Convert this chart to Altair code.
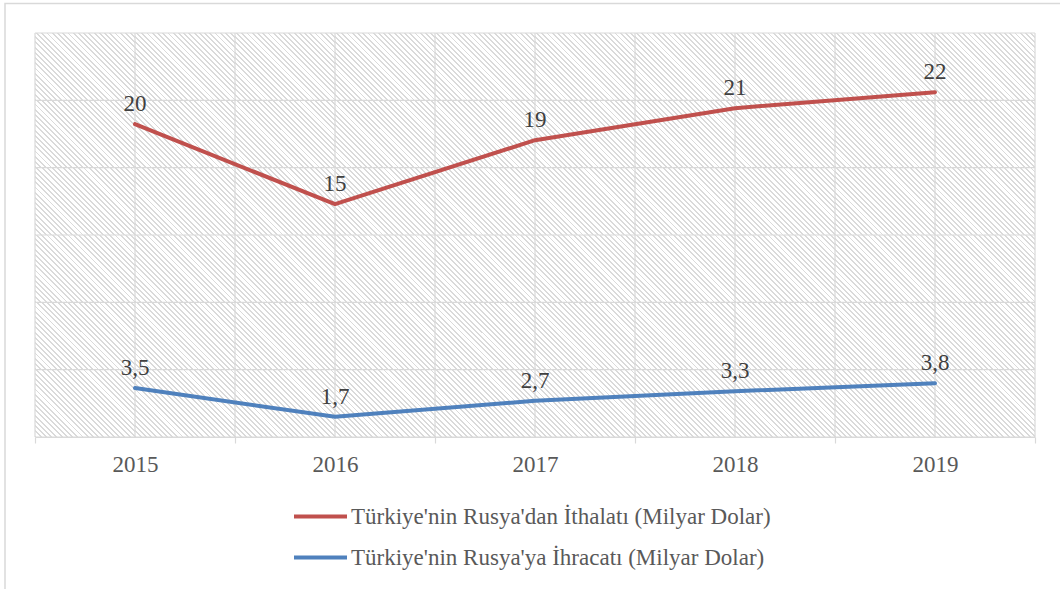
import altair as alt
import pandas as pd

# ---- data ----
years = [2015, 2016, 2017, 2018, 2019]
imports = [20, 15, 19, 21, 22]          # Türkiye'nin Rusya'dan İthalatı (Milyar Dolar)
exports = [3.5, 1.7, 2.7, 3.3, 3.8]     # Türkiye'nin Rusya'ya İhracatı (Milyar Dolar)
series_names = [
    "Türkiye'nin Rusya'dan İthalatı (Milyar Dolar)",
    "Türkiye'nin Rusya'ya İhracatı (Milyar Dolar)",
]
series_colors = ["#c0504d", "#4f81bd"]

rows = []
for name, vals in zip(series_names, [imports, exports]):
    for y, v in zip(years, vals):
        rows.append({"year": y, "value": v, "series": name,
                     "label": f"{v:g}".replace(".", ",")})
df = pd.DataFrame(rows)

# ---- layout ----
W, H = 1000, 404
y_min, y_max = 0.44, 25.7
grid_y = [y_min + i * (y_max - y_min) / 6 for i in range(7)]
grid_x = [years[0] - 0.5 + i * 0.5 for i in range(2 * len(years) + 1)]
x_scale = alt.Scale(domain=[years[0] - 0.5, years[-1] + 0.5], nice=False, zero=False)
y_scale = alt.Scale(domain=[y_min, y_max], nice=False, zero=False)

# background cells between grid lines, each filled with a diagonal hatch
cells = pd.DataFrame([
    {"x0": grid_x[i], "x1": grid_x[i + 1], "y0": grid_y[j], "y1": grid_y[j + 1]}
    for i in range(len(grid_x) - 1) for j in range(len(grid_y) - 1)
])
cw, ch = W / (len(grid_x) - 1), H / (len(grid_y) - 1)
r = ch / cw
s = (1 + r) / (1 + r * r)
N = round((cw + ch) / 5.3)
stops = []
for k in range(N):
    a = k / N
    b = (k + 0.36) / N
    c = (k + 1) / N
    stops += [
        alt.GradientStop(offset=round(a, 6), color="#dadada"),
        alt.GradientStop(offset=round(b, 6), color="#dadada"),
        alt.GradientStop(offset=round(b, 6), color="#ffffff"),
        alt.GradientStop(offset=round(c, 6), color="#ffffff"),
    ]
hatch = alt.LinearGradient(gradient="linear", stops=stops,
                           x1=0, y1=1, x2=round(s, 5), y2=round(1 - s * r, 5))

serif = "Liberation Serif, Times New Roman, DejaVu Serif, serif"
grid_color = "#d9d9d9"

x_enc = alt.X(
    "year:Q",
    scale=x_scale,
    axis=alt.Axis(
        values=grid_x, title=None, grid=False,
        domainColor=grid_color, domainWidth=1.2, tickSize=6, tickWidth=1.2,
        tickColor={"condition": {"test": "datum.value % 1 === 0", "value": "transparent"},
                   "value": grid_color},
        labelExpr="datum.value % 1 === 0 ? format(datum.value, 'd') : ''",
        labelFont=serif, labelFontSize=23, labelColor="#595959", labelPadding=10,
        labelFlush=False, labelOverlap=False,
    ),
)
y_enc = alt.Y(
    "value:Q",
    scale=y_scale,
    axis=alt.Axis(title=None, grid=False, labels=False, ticks=False, domain=False),
)
color_enc = alt.Color(
    "series:N",
    scale=alt.Scale(domain=series_names, range=series_colors),
    legend=alt.Legend(
        title=None, orient="none", legendX=257, legendY=455, direction="vertical",
        symbolType="stroke", symbolSize=2809, symbolStrokeWidth=4,
        labelFont=serif, labelFontSize=23, labelColor="#595959", labelLimit=700,
        labelOffset=2, rowPadding=-13, padding=0,
    ),
)

border = alt.Chart(pd.DataFrame({"k": [0]})).mark_rect(
    fill="transparent", stroke="#d9d9d9", strokeWidth=1.5, clip=False
).encode(x=alt.value(-30), x2=alt.value(1040), y=alt.value(-29.5), y2=alt.value(570))

background = alt.Chart(cells).mark_rect(fill=hatch).encode(
    x=alt.X("x0:Q", scale=x_scale), x2="x1:Q",
    y=alt.Y("y0:Q", scale=y_scale), y2="y1:Q",
)

vgrid = alt.Chart(pd.DataFrame({"gx": grid_x})).mark_rule(
    color=grid_color, strokeWidth=1.2
).encode(x=alt.X("gx:Q", scale=x_scale), y=alt.value(0), y2=alt.value(H))

hgrid = alt.Chart(pd.DataFrame({"gy": grid_y})).mark_rule(
    color=grid_color, strokeWidth=1.2
).encode(y=alt.Y("gy:Q", scale=y_scale), x=alt.value(0), x2=alt.value(W))

lines = alt.Chart(df).mark_line(strokeWidth=4, strokeCap="round", strokeJoin="round").encode(
    x=x_enc, y=y_enc, color=color_enc, detail="series:N"
)
texts = alt.Chart(df).mark_text(
    baseline="bottom", dy=-8, font=serif, fontSize=23, color="#404040"
).encode(x="year:Q", y="value:Q", text="label:N")

chart = (
    alt.layer(border, background, vgrid, hgrid, lines, texts)
    .properties(
        width=W, height=H,
        autosize=alt.AutoSizeParams(type="none"),
        padding={"left": 35, "top": 33, "right": 25, "bottom": 152},
        background="white",
    )
    .configure_view(stroke=None)
)

chart.save("out.html", embed_options={"renderer": "svg", "actions": False})
